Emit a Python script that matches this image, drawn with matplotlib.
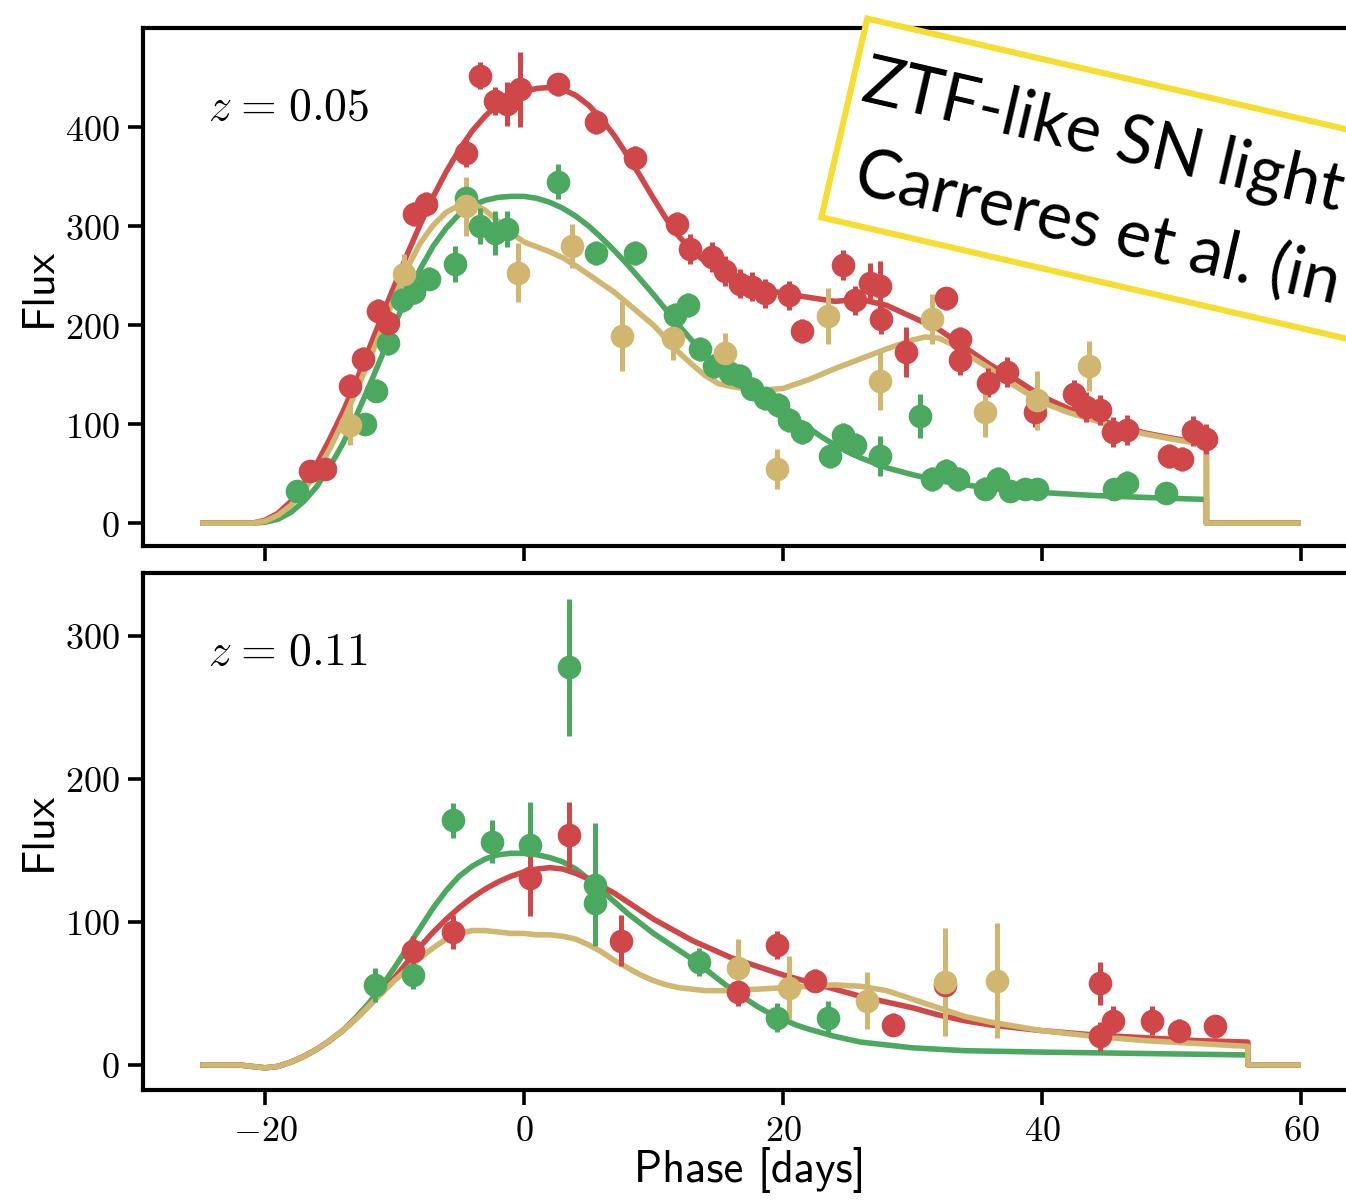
import numpy as np
import matplotlib
matplotlib.use("Agg")
import matplotlib.pyplot as plt
from matplotlib.patches import Rectangle
from matplotlib.transforms import Affine2D, IdentityTransform
from matplotlib.ticker import FixedLocator, FuncFormatter

plt.rcParams['mathtext.fontset'] = 'cm'

# ---------------- data: top panel (z = 0.05) ----------------
top_red_model_phase = [-25, -21, -20, -19, -18, -17, -16, -15, -14, -13, -12, -11, -10, -9, -8, -7, -6, -5,
                       -4, -3, -2, -1, 0, 1, 2, 3, 4, 5, 6, 7, 8, 9, 10, 11, 12, 13, 14, 15, 16, 18, 20,
                       22, 24, 26, 28, 30, 32, 34, 36, 38, 40, 42, 44, 46, 48, 50, 52.7, 52.7, 60]
top_red_model_flux = [0, 0, 3, 10, 22, 40, 60, 85, 112, 142, 175, 208, 240, 272, 302, 330, 355, 377,
                      396, 411, 423, 431, 436, 439, 440, 438, 432, 422, 408, 391, 371, 350, 328, 307, 289,
                      275, 264, 255, 248, 238, 232, 228, 224, 226, 220, 208, 196, 178, 160, 145, 128, 116,
                      106, 98, 91, 86, 80, 0, 0]

top_tan_model_phase = [-25, -21, -20, -19, -18, -17, -16, -15, -14, -13, -12, -11, -10, -9, -8, -7, -6, -5,
                       -4, -3, -2, -1, 0, 1, 2, 3, 4, 5, 6, 7, 8, 9, 10, 11, 12, 13, 14, 15, 16, 17, 18, 19,
                       20, 22, 24, 26, 28, 30, 31, 32, 33, 34, 36, 38, 40, 42, 44, 46, 48, 50, 52.7, 52.7, 60]
top_tan_model_flux = [0, 0, 2, 8, 18, 33, 52, 75, 102, 132, 163, 195, 228, 258, 283, 301, 314, 321,
                      323, 316, 305, 293, 284, 279, 274, 268, 260, 251, 242, 233, 222, 211, 200, 186, 172,
                      160, 149, 141, 138, 136, 135, 135, 136, 145, 156, 166, 176, 185, 188, 187, 181, 172,
                      156, 138, 122, 112, 104, 96, 90, 85, 79, 0, 0]

top_green_model_phase = [-25, -21, -20, -19, -18, -17, -16, -15, -14, -13, -12, -11, -10, -9, -8, -7, -6,
                         -5, -4, -3, -2, -1, 0, 1, 2, 3, 4, 5, 6, 7, 8, 9, 10, 11, 12, 13, 14, 15, 16, 17,
                         18, 19, 20, 21, 22, 23, 24, 25, 26, 28, 30, 32, 34, 36, 38, 40, 44, 48, 52.7,
                         52.7, 60]
top_green_model_flux = [0, 0, 1, 4, 11, 22, 37, 57, 80, 107, 137, 168, 200, 230, 257, 280, 298,
                        312, 321, 326, 329, 330, 330, 328, 324, 318, 310, 300, 288, 275, 261, 246, 231, 215,
                        199, 184, 170, 158, 148, 139, 131, 123, 114, 105, 96, 87, 79, 72, 66, 56, 49, 43,
                        39, 35, 33, 31, 28, 26, 24, 0, 0]

top_red_phase = [-16.5, -15.4, -13.4, -12.4, -11.3, -10.5, -8.5, -7.6, -4.5, -3.4, -2.2, -1.3, -0.3, 2.6,
                 5.6, 8.6, 11.8, 12.8, 14.5, 15.5, 16.7, 17.6, 18.6, 20.5, 21.5, 24.6, 25.6, 26.7, 27.5,
                 27.6, 29.5, 32.6, 33.7, 33.7, 35.8, 37.3, 39.5, 42.5, 43.4, 44.5, 45.5, 46.6, 49.8, 50.8,
                 51.7, 52.7]
top_red_flux = [53, 55, 139, 166, 214, 202, 312, 322, 374, 452, 426, 423, 438, 443,
                405, 369, 302, 277, 269, 255, 242, 239, 232, 230, 194, 261, 225, 243, 240,
                206, 173, 227, 186, 165, 142, 153, 112, 130, 117, 114, 92, 94, 68, 65,
                93, 85]
top_red_err = [8, 8, 12, 12, 12, 12, 12, 12, 14, 14, 14, 22, 38, 12,
               12, 12, 12, 15, 15, 15, 15, 15, 15, 15, 12, 15, 15, 20, 25,
               15, 25, 12, 12, 15, 15, 15, 15, 15, 15, 15, 15, 15, 12, 12,
               15, 15]

top_green_phase = [-17.5, -12.3, -11.4, -10.5, -9.4, -8.5, -7.3, -5.3, -4.5, -3.4, -2.2, -1.3, 2.6, 5.6,
                   8.6, 11.7, 12.7, 13.6, 14.7, 15.9, 16.7, 17.6, 18.6, 19.6, 20.5, 21.5, 23.6, 24.6,
                   25.6, 27.5, 30.6, 31.5, 32.6, 33.5, 35.6, 36.6, 37.5, 38.7, 39.6, 45.6, 46.6, 49.6]
top_green_flux = [33, 100, 134, 182, 225, 233, 247, 262, 328, 300, 293, 297, 345, 273,
                  273, 210, 220, 176, 159, 152, 149, 136, 126, 119, 104, 92, 68, 89,
                  79, 68, 108, 45, 53, 45, 35, 45, 33, 35, 35, 35, 41, 31]
top_green_err = [8, 10, 12, 12, 12, 12, 12, 18, 15, 18, 22, 18, 18, 12,
                 12, 12, 12, 12, 12, 12, 12, 12, 12, 12, 12, 12, 12, 12,
                 12, 20, 22, 12, 12, 12, 12, 12, 10, 10, 10, 10, 12, 8]

top_tan_phase = [-13.4, -9.3, -4.5, -0.5, 3.7, 7.6, 11.5, 15.5, 19.5, 23.5, 27.5, 31.5, 35.6, 39.6, 43.6]
top_tan_flux = [99, 252, 320, 253, 280, 189, 187, 172, 55, 209, 144, 206, 112, 124, 159]
top_tan_err = [20, 20, 30, 30, 22, 35, 22, 20, 20, 28, 30, 25, 25, 30, 25]

# ---------------- data: bottom panel (z = 0.11) ----------------
bot_red_model_phase = [-25, -22, -21, -20, -19, -18, -17, -16, -15, -14, -13, -12, -11, -10, -9, -8, -7,
                       -6, -5, -4, -3, -2, -1, 0, 1, 2, 3, 4, 5, 6, 7, 8, 9, 10, 11, 12, 13, 14, 15, 16,
                       18, 20, 22, 24, 26, 28, 30, 32, 34, 36, 38, 40, 44, 48, 52, 55.9, 55.9, 60]
bot_red_model_flux = [0, 0, -1, -2, -1, 2, 6, 11, 17, 24, 32, 41, 51, 61, 72, 83, 93,
                      102, 110, 117, 123, 128, 132, 135, 137, 138, 137, 134, 130, 125, 120, 114, 108, 102,
                      97, 92, 87, 83, 79, 75, 69, 63, 58, 53, 48, 44, 40, 35, 31, 28, 26, 24, 21, 19,
                      17, 16, 0, 0]

bot_green_model_phase = [-25, -22, -21, -20, -19, -18, -17, -16, -15, -14, -13, -12, -11, -10, -9, -8,
                         -7, -6, -5, -4, -3, -2, -1, 0, 1, 2, 3, 4, 5, 6, 7, 8, 9, 10, 11, 12, 13, 14,
                         15, 16, 17, 18, 19, 20, 21, 22, 24, 26, 28, 30, 34, 40, 48, 55.9, 55.9, 60]
bot_green_model_flux = [0, 0, -1, -2, -1, 2, 6, 11, 17, 24, 33, 43, 55, 68, 82, 96,
                        110, 122, 132, 139, 144, 147, 148, 148, 147, 145, 142, 137, 130, 122, 114, 106,
                        99, 92, 86, 80, 74, 67, 60, 53, 47, 41, 36, 32, 28, 25, 20, 16, 14, 12, 10, 9,
                        8, 7, 0, 0]

bot_tan_model_phase = [-25, -22, -21, -20, -19, -18, -17, -16, -15, -14, -13, -12, -11, -10, -9, -8, -7,
                       -6, -5, -4, -3, -2, -1, 0, 1, 2, 3, 4, 5, 6, 7, 8, 9, 10, 11, 12, 13, 14, 16, 18,
                       20, 22, 24, 26, 28, 30, 32, 34, 36, 38, 40, 44, 48, 52, 55.9, 55.9, 60]
bot_tan_model_flux = [0, 0, -1, -2, -1, 2, 6, 11, 17, 24, 32, 41, 50, 59, 67, 75, 82,
                      88, 92, 94, 94, 93, 92, 92, 91, 91, 90, 88, 84, 79, 73, 68, 63, 59, 56, 54, 53,
                      52, 52, 53, 54, 55, 56, 55, 52, 46, 40, 34, 30, 27, 24, 20, 17, 15, 13, 0, 0]

bot_green_phase = [-11.5, -8.6, -5.5, -2.5, 0.5, 3.5, 5.5, 5.5, 13.5, 19.5, 23.5]
bot_green_flux = [56, 63, 171, 156, 154, 278, 126, 113, 72, 33, 33]
bot_green_err = [12, 10, 12, 15, 30, 48, 43, 15, 10, 10, 12]

bot_red_phase = [-8.6, -5.5, 0.5, 3.5, 7.5, 16.5, 19.5, 22.5, 28.5, 32.5, 44.5, 44.5, 45.5, 48.5,
                 50.6, 53.4]
bot_red_flux = [80, 93, 131, 161, 87, 51, 84, 59, 28, 56, 57, 20, 31, 31, 24, 27]
bot_red_err = [10, 12, 27, 23, 18, 10, 10, 8, 8, 10, 15, 10, 10, 10, 8, 8]

bot_tan_phase = [16.5, 20.5, 26.5, 32.5, 36.5]
bot_tan_flux = [68, 54, 45, 58, 59]
bot_tan_err = [20, 22, 20, 38, 40]

x_ticks = [-20, 0, 20, 40, 60]
top_y_ticks = [0, 100, 200, 300, 400]
bot_y_ticks = [0, 100, 200, 300]

RED = '#d0474a'
GREEN = '#4ba85f'
TAN = '#d1b670'
YELLOW = '#f6dd2f'

W, H = 1346, 1202
fig = plt.figure(figsize=(W / 100, H / 100), dpi=100)
ax1 = fig.add_axes([143 / W, 1 - 546 / H, (1356 - 143) / W, (546 - 28) / H])
ax2 = fig.add_axes([143 / W, 1 - 1090 / H, (1356 - 143) / W, (1090 - 573) / H])

fmt = FuncFormatter(lambda v, p: r'$%d$' % v)

panels = [
    (ax1, (top_green_model_phase, top_green_model_flux), (top_red_model_phase, top_red_model_flux),
     (top_tan_model_phase, top_tan_model_flux),
     (top_green_phase, top_green_flux, top_green_err), (top_red_phase, top_red_flux, top_red_err),
     (top_tan_phase, top_tan_flux, top_tan_err), (-23, 500), top_y_ticks,
     r'$z\hspace{0.09}=\hspace{0.09}0.05$'),
    (ax2, (bot_green_model_phase, bot_green_model_flux), (bot_red_model_phase, bot_red_model_flux),
     (bot_tan_model_phase, bot_tan_model_flux),
     (bot_green_phase, bot_green_flux, bot_green_err), (bot_red_phase, bot_red_flux, bot_red_err),
     (bot_tan_phase, bot_tan_flux, bot_tan_err), (-17.5, 344), bot_y_ticks,
     r'$z\hspace{0.09}=\hspace{0.09}0.11$'),
]

for ax, gm, rm, tm, gp, rp, tp, ylim, yt, ztxt in panels:
    for (ph, fl), c in ((gm, GREEN), (rm, RED), (tm, TAN)):
        ax.plot(ph, fl, color=c, lw=4, zorder=2, solid_capstyle='butt')
    for (ph, fl, er), c in ((gp, GREEN), (rp, RED), (tp, TAN)):
        ax.errorbar(ph, fl, yerr=er, fmt='o', color=c, ms=17, mew=0, elinewidth=3.6,
                    capsize=0, zorder=3)
    ax.set_xlim(-29.42, 64.25)
    ax.set_ylim(*ylim)
    ax.xaxis.set_major_locator(FixedLocator(x_ticks))
    ax.yaxis.set_major_locator(FixedLocator(yt))
    ax.yaxis.set_major_formatter(fmt)
    ax.xaxis.set_major_formatter(fmt)
    ax.tick_params(direction='out', length=11, width=2.6, pad=6, labelsize=26,
                   top=False, right=False)
    for sp in ax.spines.values():
        sp.set_linewidth(3.0)
    ax.set_ylabel('Flux', fontsize=32, family='cmss10')
    ax.yaxis.set_label_coords(-0.069, 0.5)
    ax.text(0.0536, 0.823, ztxt, transform=ax.transAxes, fontsize=33, ha='left', va='baseline')

ax1.tick_params(labelbottom=False)
ax2.set_xlabel('Phase [days]', fontsize=32, family='cmss10')
ax2.xaxis.set_label_coords(0.5, -0.11)

# ---------------- rotated annotation box ----------------
ang = np.deg2rad(13.0)
x0, y0 = 865, 15
T = Affine2D(np.array([[np.cos(ang), -np.sin(ang), x0],
                       [-np.sin(ang), -np.cos(ang), H - y0],
                       [0, 0, 1]]))
box = Rectangle((3, 3), 900, 204, transform=T, facecolor='white', edgecolor=YELLOW,
                linewidth=4.4, zorder=5)
fig.add_artist(box)
p1 = T.transform((14, 84))
p2 = T.transform((27, 176))
fig.text(p1[0], p1[1], 'ZTF-like SN light-curves', transform=IdentityTransform(), rotation=-13,
         rotation_mode='anchor', ha='left', va='baseline', fontsize=48, family='Lato', zorder=6)
fig.text(p2[0], p2[1], 'Carreres et al. (in prep.)', transform=IdentityTransform(), rotation=-13,
         rotation_mode='anchor', ha='left', va='baseline', fontsize=48, family='Lato', zorder=6)

fig.savefig('out.png', dpi=100)
